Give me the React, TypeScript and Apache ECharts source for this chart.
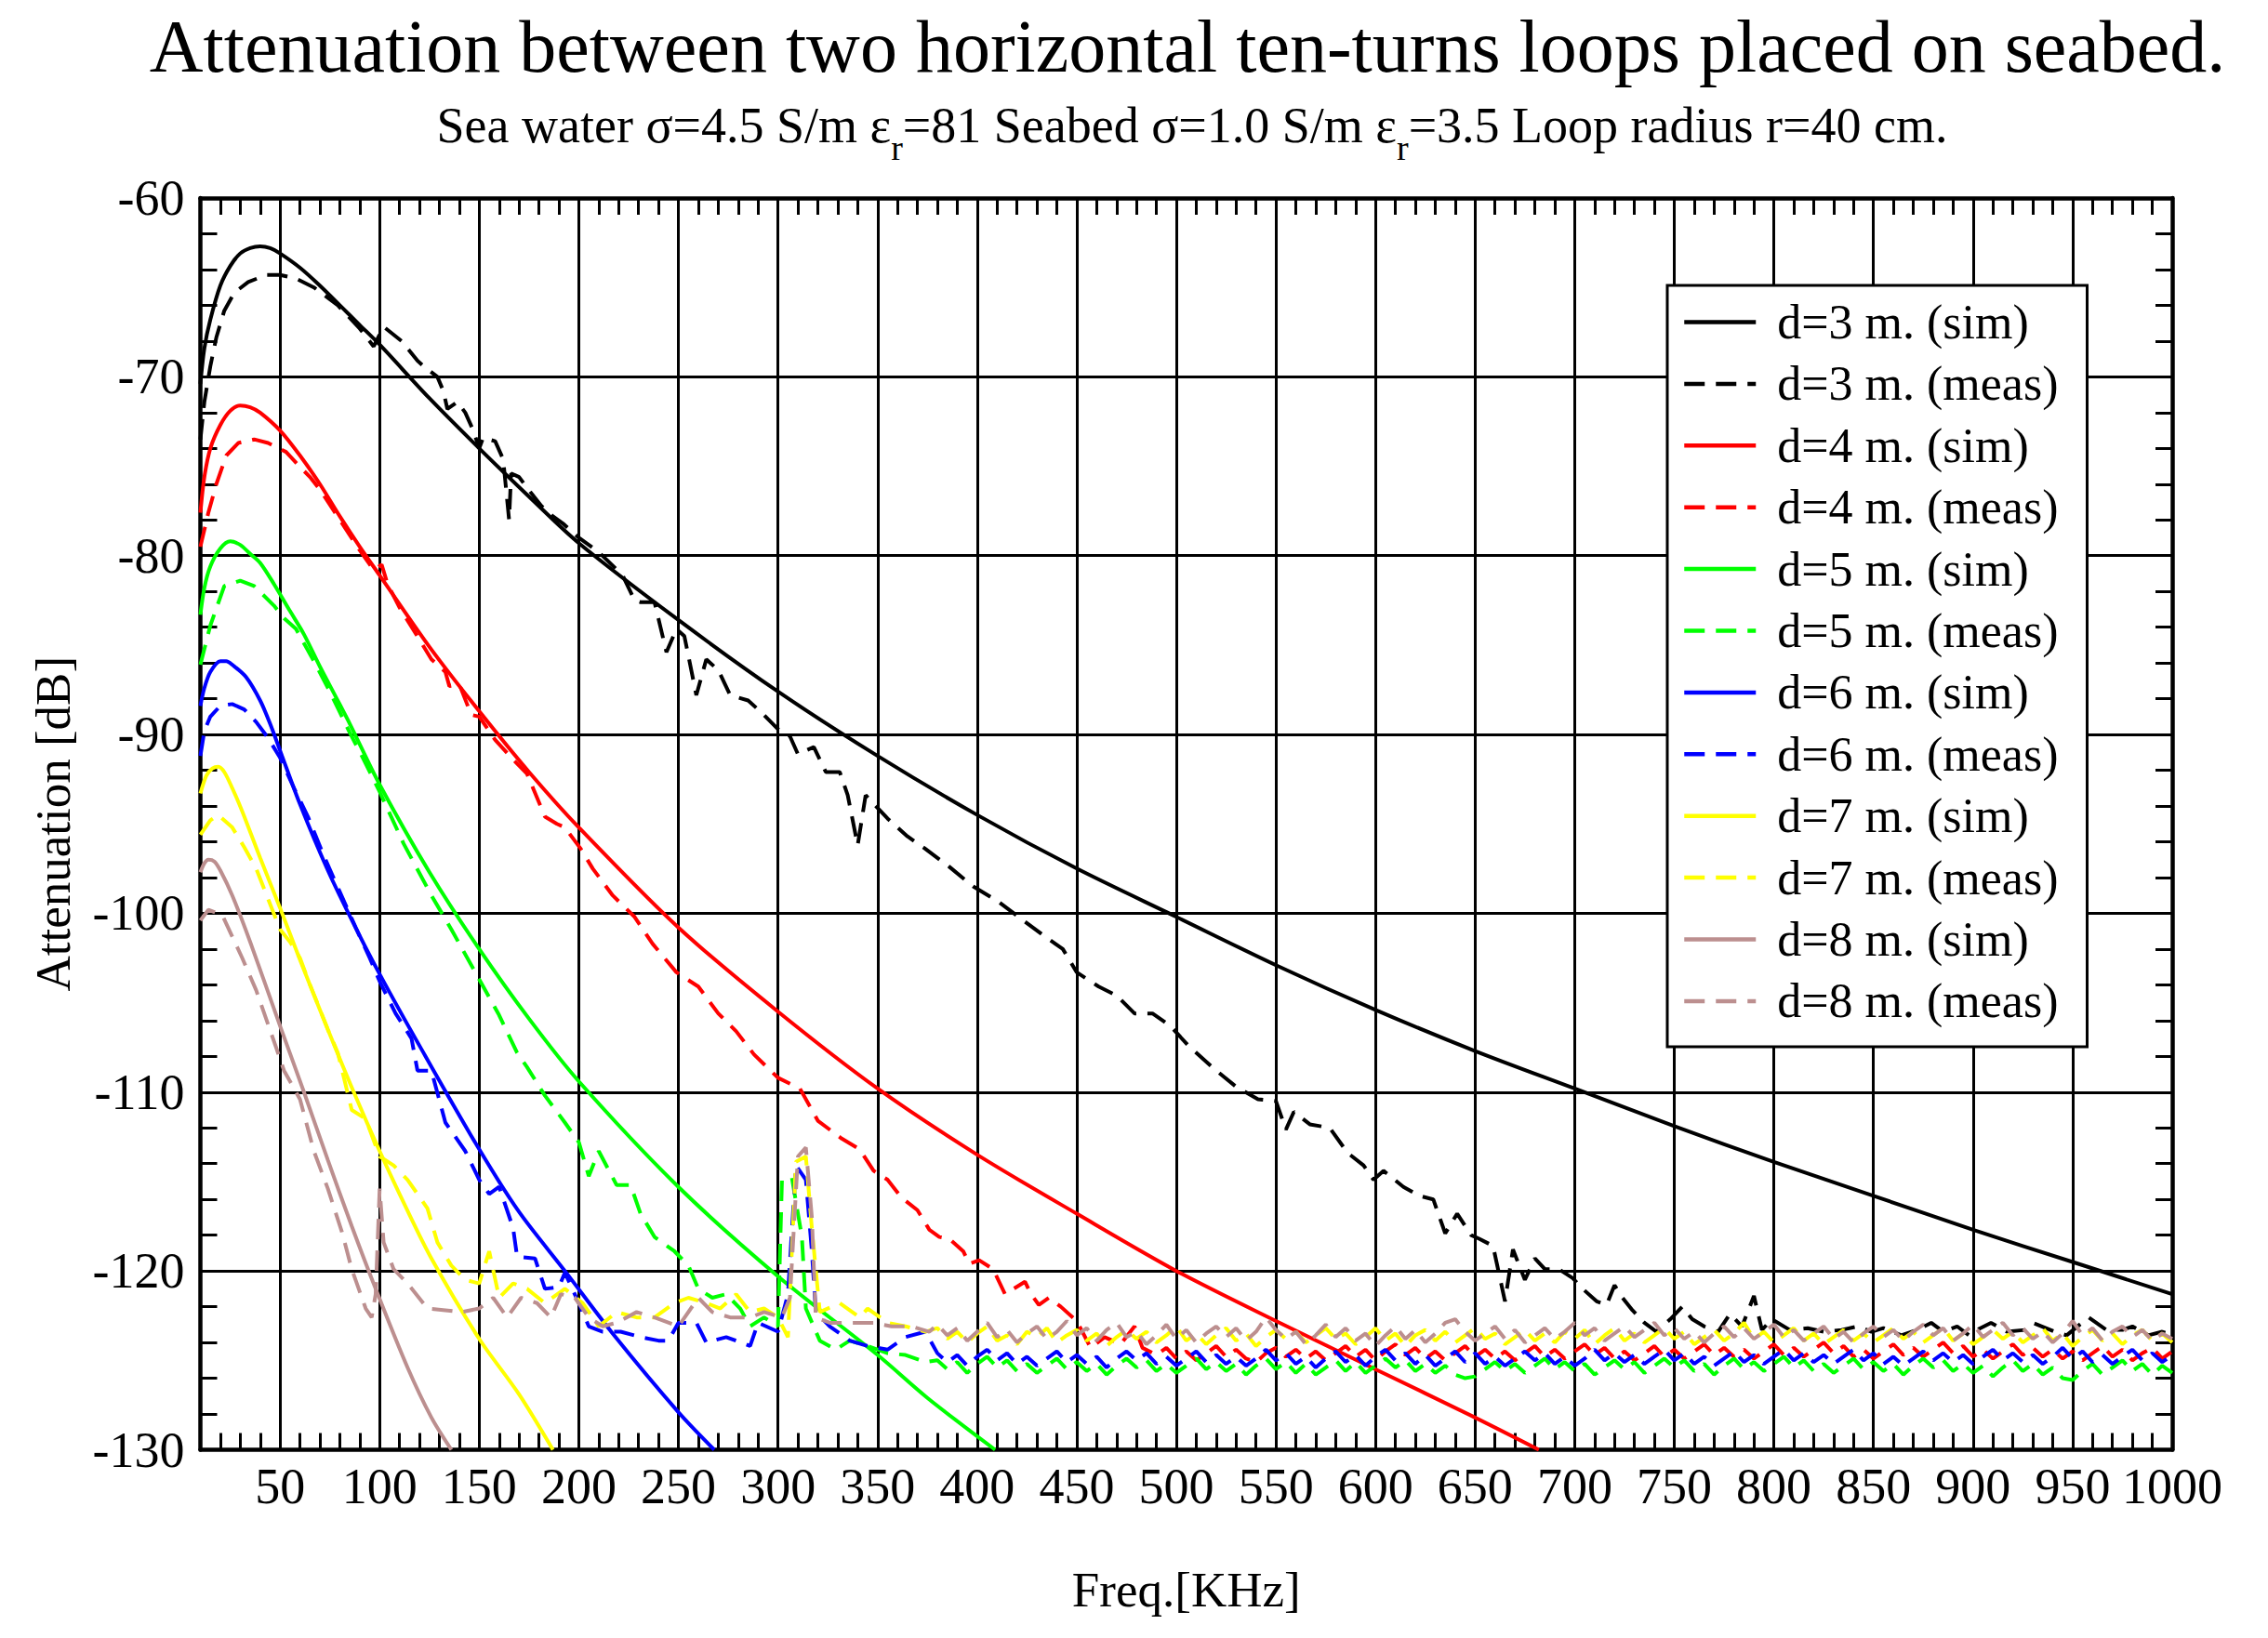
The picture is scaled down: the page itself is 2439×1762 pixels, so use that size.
import React, { useEffect, useRef } from "react";
import * as echarts from "echarts";

const FONT = "'Liberation Serif', 'Times New Roman', serif";

const TITLE = "Attenuation between two horizontal ten-turns loops placed on seabed.";
const SUBTITLE = "Sea water σ=4.5 S/m ε{s|r}=81 Seabed σ=1.0 S/m ε{s|r}=3.5 Loop radius r=40 cm.";
const X_NAME = "Freq.[KHz]";
const Y_NAME = "Attenuation [dB]";

const X_MIN = 10;
const X_MAX = 1000;
const X_TICK = 10;
const X_LABEL_STEP = 50;
const Y_MIN = -130;
const Y_MAX = -60;
const Y_STEP = 10;
const X_GRID_LINES = [50, 100, 150, 200, 250, 300, 350, 400, 450, 500, 550, 600, 650, 700, 750, 800, 850, 900, 950];

const NAMES = [
  "d=3 m. (sim)", "d=3 m. (meas)",
  "d=4 m. (sim)", "d=4 m. (meas)",
  "d=5 m. (sim)", "d=5 m. (meas)",
  "d=6 m. (sim)", "d=6 m. (meas)",
  "d=7 m. (sim)", "d=7 m. (meas)",
  "d=8 m. (sim)", "d=8 m. (meas)",
];
const COLORS = ["#000000", "#ff0000", "#00ff00", "#0000ff", "#ffff00", "#bc8f8f"];

// ---------- simulated curves [kHz, dB] ----------
const sim3 = [[10,-70.4],[12,-68.4],[15,-66.8],[20,-64.9],[25,-63.8],[30,-63.1],[35,-62.8],[40,-62.7],[45,-62.8],[50,-63.1],[60,-63.9],[70,-64.9],[80,-66.0],[90,-67.1],[100,-68.2],[125,-71.2],[150,-74.0],[175,-76.7],[200,-79.3],[250,-83.6],[300,-87.6],[350,-91.2],[400,-94.5],[450,-97.5],[500,-100.2],[550,-102.9],[600,-105.4],[650,-107.7],[700,-109.8],[750,-111.9],[800,-113.9],[850,-115.8],[900,-117.7],[950,-119.5],[1000,-121.3]];
const sim4 = [[10,-77.6],[12,-75.6],[15,-74.0],[20,-72.7],[25,-71.9],[30,-71.6],[35,-71.7],[40,-72.0],[50,-73.0],[60,-74.4],[70,-76.0],[80,-77.8],[90,-79.5],[100,-81.1],[125,-85.1],[150,-88.7],[175,-92.1],[200,-95.2],[250,-100.8],[300,-105.5],[350,-109.8],[400,-113.5],[450,-116.8],[500,-120.0],[550,-122.8],[600,-125.5],[650,-128.2],[682,-130]];
const sim5 = [[10,-83.3],[12,-81.8],[15,-80.6],[20,-79.6],[25,-79.2],[30,-79.4],[35,-79.9],[40,-80.4],[47,-81.6],[55,-83.1],[62,-84.4],[70,-86.2],[78,-87.9],[85,-89.4],[100,-92.8],[125,-97.7],[150,-102.0],[175,-105.9],[200,-109.4],[250,-115.3],[300,-120.3],[350,-124.7],[375,-127.1],[409,-130]];
const sim6 = [[10,-88.4],[12,-87.4],[15,-86.5],[20,-85.9],[23,-85.9],[26,-86.1],[33,-86.8],[40,-88.1],[45,-89.4],[50,-90.9],[60,-93.9],[74,-97.6],[87,-100.6],[100,-103.4],[121,-107.6],[150,-113.2],[170,-116.7],[193,-120.0],[217,-123.5],[250,-127.9],[268,-130]];
const sim7 = [[10,-93.3],[13,-92.3],[16,-91.9],[19,-91.8],[22,-92.1],[26,-93.0],[31,-94.3],[40,-96.9],[50,-99.7],[60,-102.6],[74,-106.5],[87,-110.0],[100,-113.3],[113,-116.4],[126,-119.3],[150,-123.8],[170,-126.9],[187,-130]];
const sim8 = [[10,-97.7],[12,-97.2],[14,-97.0],[17,-97.1],[20,-97.6],[26,-99.0],[35,-101.6],[50,-106.3],[62,-110.0],[74,-113.8],[86,-117.5],[98,-121.0],[114,-125.4],[126,-128.2],[136,-130]];

// ---------- measured curves [kHz, dB] ----------
const meas3 = [[10,-73.5],[12,-71.4],[15,-69.4],[18,-67.8],[22,-66.3],[27,-65.3],[34,-64.7],[43,-64.3],[50,-64.3],[58,-64.5],[67,-65.0],[79,-66.0],[90,-67.3],[97,-68.3],[102,-67.2],[111,-68.0],[119,-69.1],[122,-69.4],[129,-70.0],[132,-70.8],[134,-71.8],[139,-71.4],[143,-72.0],[147,-73.0],[150,-74.0],[152,-73.4],[158,-73.6],[162,-74.6],[165,-78.0],[166,-75.4],[170,-75.6],[174,-76.2],[181,-77.2],[187,-77.8],[192,-78.2],[200,-79.0],[205,-79.4],[210,-79.8],[222,-81.1],[228,-82.5],[231,-82.6],[238,-82.6],[244,-85.4],[249,-84.1],[253,-84.5],[259,-87.8],[264,-85.8],[270,-86.4],[276,-87.8],[285,-88.1],[292,-88.8],[300,-89.7],[306,-90.1],[310,-91.1],[318,-90.7],[324,-92.1],[331,-92.1],[335,-93.4],[340,-96.2],[344,-93.4],[355,-94.7],[365,-95.7],[374,-96.4],[386,-97.4],[398,-98.5],[410,-99.3],[422,-100.3],[434,-101.3],[443,-102.0],[450,-103.3],[461,-104.1],[470,-104.6],[479,-105.6],[488,-105.6],[497,-106.3],[506,-107.4],[519,-108.7],[530,-109.7],[541,-110.4],[550,-110.5],[555,-112.1],[559,-111.1],[567,-111.8],[577,-112.0],[586,-113.4],[594,-114.1],[599,-114.9],[604,-114.4],[614,-115.3],[622,-115.8],[629,-116.0],[635,-117.9],[641,-116.8],[648,-118.0],[652,-118.2],[659,-118.6],[665,-121.7],[669,-118.8],[675,-120.5],[680,-119.3],[685,-119.9],[692,-119.9],[699,-120.4],[704,-121.0],[711,-121.7],[716,-121.9],[720,-120.8],[724,-121.5],[729,-122.2],[735,-122.9],[741,-123.4],[748,-122.7],[754,-122.0],[759,-122.7],[765,-123.1],[772,-123.4],[778,-122.4],[784,-123.1],[790,-121.4],[794,-123.3],[799,-122.7],[808,-123.3],[817,-123.2],[825,-123.4],[834,-123.3],[842,-123.1],[849,-123.4],[855,-123.2],[864,-123.6],[872,-123.3],[879,-122.9],[885,-123.4],[892,-123.1],[898,-123.6],[902,-123.3],[909,-122.9],[917,-123.4],[926,-123.3],[930,-122.9],[941,-123.4],[947,-123.6],[958,-122.6],[967,-123.3],[975,-123.3],[980,-123.1],[988,-123.6],[995,-123.4],[1000,-123.6]];

const meas4Head = [[10,-79.5],[14,-77.6],[18,-76.0],[23,-74.4],[29,-73.7],[37,-73.5],[44,-73.7],[53,-74.2],[58,-74.8],[65,-75.6],[70,-76.3],[80,-78.0],[90,-79.7],[97,-80.8],[101,-80.5],[104,-81.6],[110,-82.9],[120,-84.7],[126,-85.8],[133,-86.5],[135,-87.3],[140,-87.2],[146,-88.9],[150,-89.0],[158,-90.3],[167,-91.4],[174,-92.2],[183,-94.6],[189,-95.0],[193,-95.2],[201,-96.4],[207,-97.5],[217,-99.0],[228,-100.2],[237,-101.7],[249,-103.3],[260,-104.1],[270,-105.6],[279,-106.6],[288,-107.9],[300,-109.2],[311,-109.8],[320,-111.6],[332,-112.6],[341,-113.2],[348,-114.4],[355,-114.9],[362,-115.9],[370,-116.6],[376,-117.7],[381,-118.1],[386,-118.2],[393,-118.9],[396,-119.6],[401,-119.4],[408,-119.9],[414,-121.3],[424,-120.6],[427,-121.3],[431,-121.9],[436,-121.5],[442,-122.0],[450,-122.8],[457,-124.3],[464,-123.7],[472,-124.1],[479,-123.1],[483,-124.3]];
const meas5Head = [[10,-86.1],[15,-83.9],[22,-81.7],[30,-81.4],[37,-81.7],[47,-82.8],[52,-83.5],[58,-84.1],[63,-85.1],[67,-85.9],[75,-87.6],[85,-89.9],[92,-91.4],[100,-93.2],[112,-96.1],[126,-99.0],[136,-100.9],[148,-103.3],[160,-105.7],[169,-107.8],[174,-108.6],[183,-110.2],[193,-111.7],[200,-112.8],[205,-114.7],[210,-113.3],[219,-115.2],[226,-115.2],[231,-116.8],[238,-118.1],[248,-118.9],[255,-119.7],[260,-121.0],[267,-121.5],[274,-121.3],[281,-122.1],[286,-123.1],[293,-122.6],[300,-123.1],[302,-114.9],[307,-114.8],[312,-118.1],[314,-122.1],[321,-123.9],[329,-124.4],[336,-123.9],[345,-124.2],[355,-124.6],[364,-124.7],[374,-125.1]];
const meas6Head = [[10,-91.2],[12,-89.8],[15,-89.0],[20,-88.4],[26,-88.3],[32,-88.6],[38,-89.3],[44,-90.2],[50,-91.3],[57,-93.0],[64,-94.6],[72,-96.8],[80,-98.8],[88,-100.8],[95,-102.5],[100,-103.8],[108,-105.6],[116,-107.0],[119,-108.8],[126,-108.8],[133,-111.7],[143,-113.3],[150,-114.9],[155,-115.7],[160,-115.3],[167,-117.6],[169,-119.2],[178,-119.3],[183,-121.0],[190,-120.9],[193,-120.1],[200,-121.8],[205,-123.1],[212,-123.4],[221,-123.4],[231,-123.7],[240,-123.9],[245,-123.9],[250,-122.9],[259,-122.9],[264,-124.0],[274,-123.7],[286,-124.2],[290,-122.9],[300,-123.4],[305,-121.3],[309,-114.1],[314,-114.9],[317,-118.9],[319,-122.3],[326,-123.1],[336,-123.9],[345,-124.2],[355,-124.4],[364,-123.7],[374,-123.4]];
const meas7Head = [[10,-95.6],[15,-94.8],[19,-94.5],[26,-95.2],[32,-96.3],[38,-97.5],[44,-99.2],[50,-100.9],[55,-101.6],[60,-102.5],[65,-104.0],[69,-105.1],[74,-106.5],[79,-107.8],[86,-111.0],[93,-111.5],[100,-113.6],[107,-114.1],[114,-114.9],[124,-116.5],[129,-118.4],[136,-119.7],[143,-120.5],[150,-120.7],[155,-118.9],[160,-121.5],[167,-120.7],[174,-121.0],[183,-121.8],[193,-121.0],[202,-121.8],[210,-123.1],[219,-122.3],[229,-122.6],[238,-122.6],[248,-121.8],[255,-121.5],[264,-121.8],[271,-122.1],[279,-121.3],[286,-122.3],[293,-122.1],[300,-122.6],[305,-123.7],[309,-113.9],[314,-113.6],[317,-117.6],[321,-122.3],[331,-121.8],[341,-122.6],[345,-122.1],[355,-122.9],[364,-123.1],[374,-123.4]];
const meas8Head = [[10,-100.4],[14,-99.8],[21,-100.1],[31,-102.5],[38,-104.3],[48,-107.5],[52,-108.8],[60,-110.4],[67,-113.3],[74,-115.4],[81,-117.8],[86,-119.9],[93,-122.1],[96,-122.6],[98,-121.3],[100,-115.4],[102,-118.4],[107,-119.9],[114,-120.7],[124,-122.1],[133,-122.2],[141,-122.3],[150,-122.1],[157,-121.5],[164,-122.6],[171,-121.5],[179,-121.8],[186,-122.6],[191,-121.3],[198,-121.5],[205,-122.6],[212,-123.1],[219,-122.9],[229,-122.3],[238,-122.6],[250,-123.1],[260,-121.5],[267,-122.3],[276,-122.6],[286,-122.6],[293,-122.3],[302,-122.6],[306,-121.5],[310,-113.6],[314,-113.1],[317,-117.0],[319,-122.6],[326,-122.9],[336,-122.9],[348,-122.9],[357,-123.1],[367,-123.1],[376,-123.4]];

// noise floor readings, sampled every FLOOR_STEP kHz
const FLOOR_STEP = 5;
const FLOOR_START = 380;
const RED_FLOOR_START = 490;
const yellowFloor = [
  -123.2,-123.8,-123.4,-124.0,-123.5,-123.1,-123.9,-123.6,-124.1,-123.4,
  -123.7,-123.2,-124.0,-123.6,-123.3,-123.9,-123.5,-124.2,-123.7,-123.3,
  -123.8,-123.4,-124.0,-123.6,-123.1,-123.9,-123.5,-124.1,-123.6,-123.2,
  -123.9,-123.5,-124.2,-123.7,-123.3,-123.8,-123.4,-124.0,-123.6,-123.2,
  -123.8,-123.5,-124.1,-123.7,-123.2,-123.9,-123.5,-124.2,-123.6,-123.3,
  -123.9,-123.4,-124.0,-123.6,-123.2,-123.8,-123.5,-124.1,-123.7,-123.3,
  -123.9,-123.5,-124.0,-123.4,-123.8,-123.3,-124.1,-123.6,-123.2,-123.9,
  -123.5,-124.0,-123.6,-123.2,-123.8,-123.4,-124.1,-123.7,-123.3,-123.9,
  -123.5,-122.9,-123.8,-123.4,-124.0,-123.6,-123.2,-123.9,-123.5,-124.1,
  -123.7,-123.3,-123.9,-123.5,-124.0,-123.6,-123.2,-123.8,-123.4,-124.0,
  -123.6,-123.2,-123.9,-123.5,-124.1,-123.7,-123.3,-123.8,-123.4,-124.0,
  -123.6,-123.2,-123.9,-123.5,-124.2,-123.7,-123.3,-123.9,-123.5,-124.1,
  -123.6,-123.3,-123.9,-123.5,-124.0,
];
const brownFloor = [
  -123.0,-123.6,-123.2,-123.9,-123.4,-122.9,-123.7,-123.3,-124.0,-123.5,
  -123.1,-123.8,-123.4,-122.8,-123.6,-123.2,-123.9,-123.3,-122.9,-123.7,
  -123.4,-124.1,-123.6,-123.0,-123.8,-123.3,-124.0,-123.5,-123.1,-123.7,
  -123.2,-123.9,-123.4,-122.6,-123.3,-123.8,-123.4,-124.1,-123.6,-123.0,
  -123.7,-123.2,-123.9,-123.5,-124.2,-123.6,-123.1,-123.8,-123.3,-124.0,
  -123.5,-122.9,-122.7,-123.4,-123.9,-123.5,-123.1,-123.8,-123.3,-124.0,
  -123.6,-123.2,-123.8,-123.4,-122.9,-123.6,-123.2,-123.9,-123.5,-123.1,
  -123.7,-123.3,-122.9,-123.6,-123.2,-123.8,-123.4,-124.0,-123.5,-123.1,
  -123.7,-123.2,-123.8,-123.4,-123.0,-123.7,-123.3,-123.9,-123.5,-123.1,
  -123.8,-123.4,-124.0,-123.5,-123.1,-123.7,-123.3,-123.9,-123.4,-123.0,
  -123.6,-123.2,-123.9,-123.5,-123.0,-123.7,-123.3,-122.9,-123.6,-123.2,
  -123.8,-123.4,-124.0,-123.5,-122.8,-123.6,-123.2,-123.9,-123.4,-123.1,
  -123.7,-123.3,-123.9,-123.5,-123.8,
];
const blueFloor = [
  -124.6,-125.1,-124.7,-125.3,-124.8,-124.4,-125.0,-124.6,-125.2,-124.8,
  -125.3,-124.9,-124.5,-125.1,-124.7,-125.2,-124.8,-125.4,-124.9,-124.5,
  -125.0,-124.6,-125.2,-124.8,-125.3,-124.9,-124.5,-125.1,-124.7,-125.2,
  -124.8,-125.3,-124.9,-124.4,-125.0,-124.6,-125.2,-124.8,-125.4,-124.9,
  -124.5,-125.1,-124.7,-125.3,-124.8,-124.4,-125.0,-124.6,-125.2,-124.7,
  -125.3,-124.9,-124.5,-125.1,-124.6,-125.2,-124.8,-125.3,-124.9,-124.5,
  -125.0,-124.6,-125.2,-124.8,-125.3,-124.9,-124.4,-125.0,-124.6,-125.1,
  -124.7,-125.2,-124.8,-124.4,-125.0,-124.6,-125.2,-124.8,-125.3,-124.9,
  -124.5,-125.1,-124.7,-125.2,-124.8,-124.4,-125.0,-124.6,-125.1,-124.7,
  -125.2,-124.8,-124.4,-125.0,-124.6,-125.2,-124.8,-125.3,-124.9,-124.5,
  -125.0,-124.6,-125.1,-124.7,-125.2,-124.8,-124.4,-125.0,-124.6,-125.1,
  -124.7,-125.2,-124.8,-124.3,-124.9,-124.5,-125.1,-124.7,-125.2,-124.8,
  -124.4,-125.0,-124.6,-125.1,-124.7,
];
const greenFloor = [
  -125.0,-125.5,-125.1,-125.7,-125.2,-124.8,-125.4,-125.0,-125.6,-125.2,
  -125.7,-125.3,-124.9,-125.5,-125.1,-125.6,-125.2,-125.8,-125.3,-124.9,
  -125.4,-125.0,-125.6,-125.2,-125.7,-125.3,-124.9,-125.5,-125.1,-125.6,
  -125.2,-125.8,-125.3,-124.9,-125.5,-125.1,-125.7,-125.2,-125.8,-125.4,
  -125.0,-125.6,-125.1,-125.7,-125.3,-124.9,-125.4,-125.0,-125.6,-125.2,
  -125.7,-125.3,-125.8,-126.0,-125.9,-125.5,-125.1,-125.6,-125.2,-125.7,
  -125.3,-124.9,-125.5,-125.1,-125.6,-125.2,-125.8,-125.4,-125.0,-125.5,
  -125.1,-125.7,-125.3,-124.9,-125.4,-125.0,-125.6,-125.2,-125.8,-125.3,
  -124.9,-125.5,-125.1,-125.6,-125.2,-124.8,-125.4,-125.0,-125.6,-125.2,
  -125.7,-125.3,-124.9,-125.5,-125.1,-125.6,-125.2,-125.8,-125.3,-124.9,
  -125.4,-125.0,-125.6,-125.2,-125.7,-125.3,-125.9,-125.4,-125.0,-125.6,
  -125.2,-125.8,-125.4,-126.0,-126.1,-125.6,-125.2,-125.8,-125.4,-125.0,
  -125.6,-125.2,-125.8,-125.3,-125.7,
];
const redFloor = [
  -124.7,-124.3,-124.9,-124.5,-125.0,-124.6,-124.2,-124.8,-124.4,-124.9,
  -125.1,-124.6,-124.3,-124.8,-124.4,-124.9,-124.5,-125.0,-124.6,-124.2,
  -124.8,-124.4,-125.0,-124.5,-124.1,-124.7,-124.3,-124.9,-124.5,-125.0,
  -124.6,-124.2,-124.8,-124.4,-124.9,-124.5,-125.0,-124.6,-124.2,-124.8,
  -124.4,-124.9,-124.5,-124.1,-124.7,-124.3,-124.9,-124.5,-125.0,-124.6,
  -124.2,-124.8,-124.4,-124.9,-124.5,-124.1,-124.7,-124.3,-124.8,-124.4,
  -124.9,-124.5,-124.1,-124.7,-124.3,-124.8,-124.4,-124.0,-124.6,-124.2,
  -124.8,-124.4,-124.9,-124.5,-124.1,-124.7,-124.3,-124.8,-124.4,-124.0,
  -124.6,-124.2,-124.8,-124.4,-124.9,-124.5,-124.1,-124.7,-124.3,-124.8,
  -124.4,-124.9,-124.5,-125.0,-124.6,-124.2,-124.8,-124.4,-125.0,-124.6,
  -124.3,-124.9,-124.5,
];

function withFloor(head: number[][], start: number, values: number[]) {
  return head.concat(values.map((v, i) => [start + i * FLOOR_STEP, v]));
}

const meas4 = withFloor(meas4Head, RED_FLOOR_START, redFloor);
const meas5 = withFloor(meas5Head, FLOOR_START, greenFloor);
const meas6 = withFloor(meas6Head, FLOOR_START, blueFloor);
const meas7 = withFloor(meas7Head, FLOOR_START, yellowFloor);
const meas8 = withFloor(meas8Head, FLOOR_START, brownFloor);

const SIMS = [sim3, sim4, sim5, sim6, sim7, sim8];
const MEAS = [meas3, meas4, meas5, meas6, meas7, meas8];

const LINE_W = 4;
const GRID_W = 3;
const BORDER_W = 4.5;

function buildOption() {
  const series: any[] = [];
  for (let i = 0; i < 6; i++) {
    const color = COLORS[i];
    series.push({
      name: NAMES[i * 2],
      type: "line",
      data: SIMS[i],
      symbol: "none",
      showSymbol: false,
      smooth: 0.3,
      lineStyle: { color, width: LINE_W, type: "solid" },
      itemStyle: { color },
      emphasis: { disabled: true },
      animation: false,
      z: 3,
    });
    series.push({
      name: NAMES[i * 2 + 1],
      type: "line",
      data: MEAS[i],
      symbol: "none",
      showSymbol: false,
      lineStyle: { color, width: LINE_W, type: [22, 12] },
      itemStyle: { color },
      emphasis: { disabled: true },
      animation: false,
      z: 3,
    });
  }
  series[0].markLine = {
    silent: true,
    z: 1,
    symbol: ["none", "none"],
    label: { show: false },
    animation: false,
    lineStyle: { color: "#000", width: GRID_W, type: "solid" },
    emphasis: { disabled: true },
    data: X_GRID_LINES.map((v) => ({ xAxis: v })),
  };

  const xCommon = {
    type: "value",
    min: X_MIN,
    max: X_MAX,
    interval: X_TICK,
    axisLine: { show: true, onZero: false, lineStyle: { color: "#000", width: BORDER_W } },
    axisTick: { show: true, inside: true, length: 18, lineStyle: { color: "#000", width: GRID_W } },
    splitLine: { show: false },
  };
  const yCommon = {
    type: "value",
    min: Y_MIN,
    max: Y_MAX,
    interval: Y_STEP,
    axisLine: { show: true, onZero: false, lineStyle: { color: "#000", width: BORDER_W } },
    axisTick: { show: true, inside: true, length: 18, lineStyle: { color: "#000", width: GRID_W } },
    minorTick: { show: true, splitNumber: 5, length: 18, lineStyle: { color: "#000", width: GRID_W } },
  };

  return {
    animation: false,
    backgroundColor: "#ffffff",
    textStyle: { fontFamily: FONT },
    grid: { left: 215.5, right: 103, top: 213, bottom: 202.5, containLabel: false },
    xAxis: [
      {
        ...xCommon,
        position: "bottom",
        name: X_NAME,
        nameLocation: "middle",
        nameGap: 124,
        nameTextStyle: { fontFamily: FONT, fontSize: 53, color: "#000" },
        axisLabel: {
          show: true,
          margin: 12,
          fontFamily: FONT,
          fontSize: 54,
          color: "#000",
          formatter: (v: number) => (v % X_LABEL_STEP === 0 ? String(v) : ""),
        },
      },
      { ...xCommon, position: "top", axisLabel: { show: false } },
    ],
    yAxis: [
      {
        ...yCommon,
        position: "left",
        name: Y_NAME,
        nameLocation: "middle",
        nameGap: 132,
        nameTextStyle: { fontFamily: FONT, fontSize: 53, color: "#000" },
        axisLabel: { show: true, margin: 17, fontFamily: FONT, fontSize: 54, color: "#000" },
        splitLine: { show: true, lineStyle: { color: "#000", width: GRID_W, type: "solid" } },
      },
      {
        ...yCommon,
        position: "right",
        axisLabel: { show: false },
        splitLine: { show: false },
      },
    ],
    legend: {
      show: true,
      orient: "vertical",
      left: 1793,
      top: 307,
      data: NAMES,
      itemWidth: 77,
      itemHeight: 2,
      itemGap: 10.4,
      padding: [11.5, 31, 21, 16],
      borderColor: "#000",
      borderWidth: 3,
      backgroundColor: "#ffffff",
      selectedMode: false,
      itemStyle: { opacity: 0 },
      lineStyle: { width: 4.5 },
      textStyle: { fontFamily: FONT, fontSize: 52, color: "#000", lineHeight: 56, padding: [0, 0, 0, 18] },
    },
    graphic: [
      {
        type: "text",
        x: 1277,
        y: 50,
        silent: true,
        style: {
          text: TITLE,
          fontSize: 80,
          fontFamily: FONT,
          fill: "#000",
          align: "center",
          verticalAlign: "middle",
          textAlign: "center",
          textVerticalAlign: "middle",
        },
      },
      {
        type: "text",
        x: 1282,
        y: 135,
        silent: true,
        style: {
          text: SUBTITLE,
          fontSize: 54,
          fontFamily: FONT,
          lineHeight: 86,
          fill: "#000",
          align: "center",
          verticalAlign: "middle",
          textAlign: "center",
          textVerticalAlign: "middle",
          rich: {
            s: { fontSize: 38, fontFamily: FONT, lineHeight: 38, verticalAlign: "bottom", fill: "#000" },
          },
        },
      },
    ],
    series,
  };
}

export default function App() {
  const ref = useRef<HTMLDivElement>(null);
  useEffect(() => {
    document.body.style.margin = "0";
    const chart = echarts.init(ref.current as HTMLDivElement, null, { renderer: "svg" });
    chart.setOption(buildOption() as any);
    return () => {
      chart.dispose();
    };
  }, []);
  return <div ref={ref} style={{ width: 2439, height: 1762, position: "absolute", left: 0, top: 0 }} />;
}
